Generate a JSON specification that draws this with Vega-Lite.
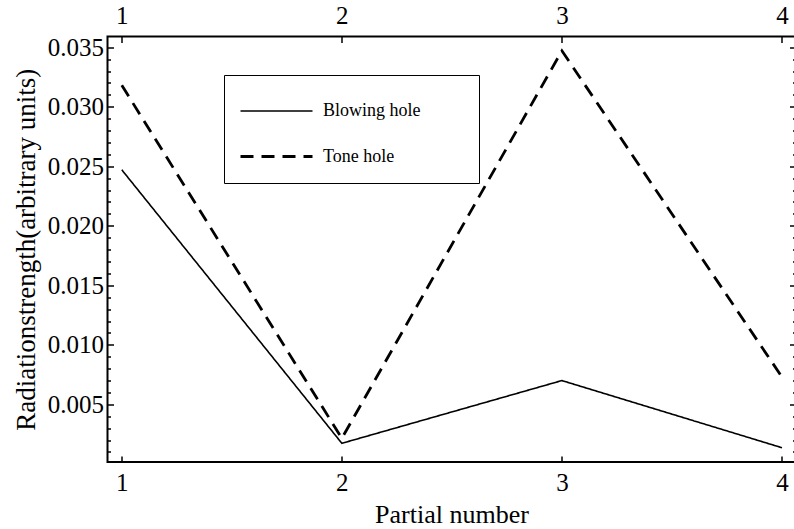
{
  "$schema": "https://vega.github.io/schema/vega-lite/v6.json",
  "width": 688,
  "height": 425.5,
  "autosize": {"type": "none"},
  "padding": {"left": 107.5, "top": 36.5, "right": 0, "bottom": 67},
  "background": "white",
  "config": {
    "font": "Liberation Serif",
    "view": {"stroke": "black", "strokeWidth": 2},
    "axis": {
      "domain": false,
      "grid": false,
      "tickColor": "black",
      "tickWidth": 1.5,
      "labelColor": "black",
      "labelFont": "Liberation Serif",
      "labelFontSize": 25,
      "titleColor": "black",
      "titleFont": "Liberation Serif",
      "titleFontSize": 26,
      "titleFontWeight": "normal"
    }
  },
  "data": {
    "values": [
      {"partial": 1, "strength": 0.0247, "series": "Blowing hole"},
      {"partial": 2, "strength": 0.00173, "series": "Blowing hole"},
      {"partial": 3, "strength": 0.0070, "series": "Blowing hole"},
      {"partial": 4, "strength": 0.00136, "series": "Blowing hole"},
      {"partial": 1, "strength": 0.0318, "series": "Tone hole"},
      {"partial": 2, "strength": 0.00215, "series": "Tone hole"},
      {"partial": 3, "strength": 0.0347, "series": "Tone hole"},
      {"partial": 4, "strength": 0.0073, "series": "Tone hole"}
    ]
  },
  "layer": [
    {
      "mark": {"type": "line", "color": "black"},
      "encoding": {
        "x": {
          "field": "partial",
          "type": "quantitative",
          "scale": {"domain": [0.935, 4.0615], "nice": false, "zero": false},
          "axis": {
            "orient": "bottom",
            "values": [1, 2, 3, 4],
            "format": "d",
            "tickSize": -6,
            "labelPadding": 14,
            "labelFont": "Liberation Serif",
            "titleFont": "Liberation Serif",
            "title": "Partial number",
            "titlePadding": 6
          }
        },
        "y": {
          "field": "strength",
          "type": "quantitative",
          "scale": {"domain": [0.00016, 0.0359], "nice": false, "zero": false},
          "axis": {
            "orient": "left",
            "values": [0.001, 0.002, 0.003, 0.004, 0.005, 0.006, 0.007, 0.008, 0.009, 0.01, 0.011, 0.012, 0.013, 0.014, 0.015, 0.016, 0.017, 0.018, 0.019, 0.02, 0.021, 0.022, 0.023, 0.024, 0.025, 0.026, 0.027, 0.028, 0.029, 0.03, 0.031, 0.032, 0.033, 0.034, 0.035],
            "labelExpr": "abs(datum.value * 200 - round(datum.value * 200)) < 0.000001 ? format(datum.value, '.3f') : ''",
            "tickSize": {"condition": {"test": "abs(datum.value * 200 - round(datum.value * 200)) < 0.000001", "value": -6}, "value": -3},
            "labelPadding": 10,
            "labelFont": "Liberation Serif",
            "titleFont": "Liberation Serif",
            "titleFontSize": 27,
            "title": "Radiationstrength(arbitrary units)",
            "titlePadding": 7
          }
        },
        "strokeDash": {
          "field": "series",
          "type": "nominal",
          "scale": {"domain": ["Blowing hole", "Tone hole"], "range": [[1, 0], [13, 8]]},
          "legend": {
            "title": null,
            "orient": "none",
            "legendX": 116.5,
            "legendY": 38.5,
            "strokeColor": "black",
            "padding": 17,
            "symbolType": "M-2,0H2M9.95,0",
            "symbolSize": 1296,
            "symbolOffset": 16,
            "symbolStrokeColor": "black",
            "symbolStrokeWidth": 2,
            "labelFont": "Liberation Serif",
            "labelFontSize": 18,
            "labelColor": "black",
            "labelOffset": 27,
            "rowPadding": 17
          }
        },
        "strokeWidth": {
          "field": "series",
          "type": "nominal",
          "scale": {"domain": ["Blowing hole", "Tone hole"], "range": [1.6, 2.8]},
          "legend": null
        }
      }
    },
    {
      "mark": {"type": "line", "opacity": 0},
      "encoding": {
        "x": {
          "field": "partial",
          "type": "quantitative",
          "scale": {"domain": [0.935, 4.0615], "nice": false, "zero": false},
          "axis": {
            "orient": "top",
            "values": [1, 2, 3, 4],
            "format": "d",
            "tickSize": -6,
            "labelPadding": 14,
            "labelFont": "Liberation Serif",
            "title": null
          }
        },
        "y": {
          "field": "strength",
          "type": "quantitative",
          "scale": {"domain": [0.00016, 0.0359], "nice": false, "zero": false},
          "axis": {
            "orient": "right",
            "values": [0.001, 0.002, 0.003, 0.004, 0.005, 0.006, 0.007, 0.008, 0.009, 0.01, 0.011, 0.012, 0.013, 0.014, 0.015, 0.016, 0.017, 0.018, 0.019, 0.02, 0.021, 0.022, 0.023, 0.024, 0.025, 0.026, 0.027, 0.028, 0.029, 0.03, 0.031, 0.032, 0.033, 0.034, 0.035],
            "labels": false,
            "tickSize": {"condition": {"test": "abs(datum.value * 200 - round(datum.value * 200)) < 0.000001", "value": -6}, "value": -3},
            "title": null
          }
        },
        "detail": {"field": "series", "type": "nominal"}
      }
    }
  ],
  "resolve": {"axis": {"x": "independent", "y": "independent"}}
}
